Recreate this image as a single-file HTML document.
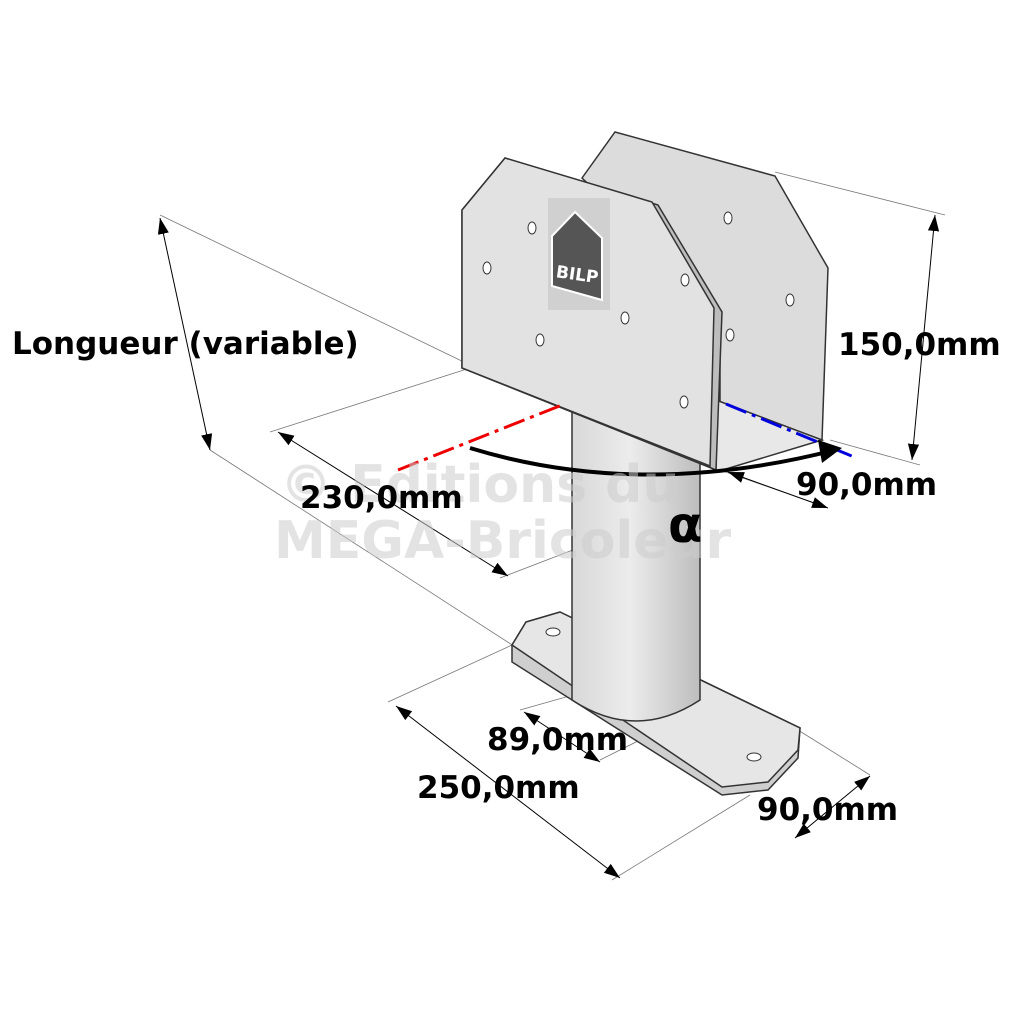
<!DOCTYPE html>
<html><head><meta charset="utf-8"><style>
html,body{margin:0;padding:0;background:#fff}
svg{display:block}
text{font-family:"DejaVu Sans","Liberation Sans",sans-serif;font-weight:bold}
</style></head><body>
<svg width="1024" height="1024" viewBox="0 0 1024 1024" xmlns="http://www.w3.org/2000/svg">
<defs>
<marker id="a" viewBox="0 0 10 10" refX="10" refY="5" markerWidth="16" markerHeight="16" markerUnits="userSpaceOnUse" orient="auto-start-reverse"><path d="M0,1.5 L10,5 L0,8.5 z" fill="#000"/></marker>
<linearGradient id="tube" x1="0" x2="1"><stop offset="0" stop-color="#d8d8d8"/><stop offset="0.45" stop-color="#ececec"/><stop offset="1" stop-color="#bdbdbd"/></linearGradient>
</defs>
<g stroke="#777" stroke-width="0.8" fill="none">
<line x1="160" y1="215" x2="470" y2="365"/>
<line x1="210" y1="450" x2="520" y2="650"/>
<line x1="270" y1="432" x2="470" y2="368"/>
<line x1="500" y1="578" x2="578" y2="548"/>
<line x1="775" y1="172" x2="945" y2="215"/>
<line x1="830" y1="440" x2="920" y2="465"/>
<line x1="820" y1="505" x2="720" y2="470"/>
<line x1="388" y1="702" x2="512" y2="645"/>
<line x1="612" y1="880" x2="750" y2="795"/>
<line x1="798" y1="730" x2="870" y2="775"/>
<line x1="520" y1="710" x2="580" y2="693"/>
<line x1="600" y1="760" x2="680" y2="720"/>
</g>
<g stroke="#000" stroke-width="1" fill="none">
<line x1="160" y1="218" x2="210" y2="450" marker-start="url(#a)" marker-end="url(#a)"/>
<line x1="935" y1="215" x2="912" y2="460" marker-start="url(#a)" marker-end="url(#a)"/>
<line x1="278" y1="432" x2="508" y2="576" marker-start="url(#a)" marker-end="url(#a)"/>
<line x1="728" y1="472" x2="828" y2="508" marker-start="url(#a)" marker-end="url(#a)"/>
<line x1="396" y1="706" x2="620" y2="878" marker-start="url(#a)" marker-end="url(#a)"/>
<line x1="524" y1="712" x2="600" y2="762" marker-start="url(#a)" marker-end="url(#a)"/>
<line x1="870" y1="776" x2="795" y2="838" marker-start="url(#a)" marker-end="url(#a)"/>
</g>
<!-- back plate -->
<polygon points="582,178 615,132 775,176 828,268 822,440 720,402 720,310" fill="#dcdcdc" stroke="#333" stroke-width="1.5"/>
<!-- U bottom -->
<polygon points="716,400 822,440 716,472" fill="#e8e8e8" stroke="#333" stroke-width="1.5"/>
<!-- base plate -->
<polygon points="512,645 526,622 560,612 800,728 798,758 768,790 722,795 512,662" fill="#cfcfcf" stroke="#333" stroke-width="1.5"/>
<polygon points="512,645 526,622 560,612 800,728 798,750 768,782 722,787" fill="#e6e6e6" stroke="#333" stroke-width="1.5"/>
<ellipse cx="553" cy="632" rx="7" ry="4" fill="#fff" stroke="#333"/>
<ellipse cx="754" cy="757" rx="7" ry="4" fill="#fff" stroke="#333"/>
<!-- tube -->
<path d="M572,400 L572,700 Q636,742 700,700 L700,420 Z" fill="url(#tube)" stroke="#333" stroke-width="1.5"/>
<!-- front plate -->
<polygon points="462,210 505,158 658,205 722,312 716,470 462,368" fill="#bdbdbd" stroke="#333" stroke-width="1.5"/>
<polygon points="462,210 505,158 652,202 714,308 710,466 462,368" fill="#e2e2e2" stroke="#333" stroke-width="1.5"/>
<g fill="#fff" stroke="#333">
<ellipse cx="532" cy="228" rx="4" ry="6"/><ellipse cx="487" cy="268" rx="4" ry="6"/>
<ellipse cx="685" cy="280" rx="4" ry="6"/><ellipse cx="625" cy="318" rx="4" ry="6"/>
<ellipse cx="540" cy="340" rx="4" ry="6"/><ellipse cx="684" cy="402" rx="4" ry="6"/>
<ellipse cx="728" cy="218" rx="4" ry="6"/><ellipse cx="790" cy="300" rx="4" ry="6"/>
<ellipse cx="730" cy="335" rx="4" ry="6"/>
</g>
<rect x="548" y="198" width="62" height="112" fill="#d0d0d0"/>
<path d="M552,236 L575,212 L602,238 L602,300 L552,286 Z" fill="#555" stroke="#fff" stroke-width="2"/>
<text x="556" y="280" font-size="17" fill="#fff" transform="rotate(8 576 274)">BILP</text>
<!-- axes -->
<line x1="398" y1="470" x2="562" y2="405" stroke="#e00" stroke-width="3" stroke-dasharray="22,6,4,6"/>
<line x1="726" y1="404" x2="854" y2="457" stroke="#00d" stroke-width="3" stroke-dasharray="22,6,4,6"/>
<path d="M470,448 Q640,500 835,450" stroke="#000" stroke-width="4" fill="none"/>
<path d="M842,448 L818,440 L822,463 Z" fill="#000"/>
<!-- watermark -->
<text x="280" y="502" font-size="52" fill="#ccc" fill-opacity="0.55">© Editions du</text>
<text x="274" y="558" font-size="52" fill="#ccc" fill-opacity="0.55">MEGA-Bricoleur</text>
<g font-size="31" fill="#000">
<text x="12" y="354">Longueur (variable)</text>
<text x="838" y="355">150,0mm</text>
<text x="300" y="508">230,0mm</text>
<text x="796" y="495">90,0mm</text>
<text x="487" y="750">89,0mm</text>
<text x="417" y="798">250,0mm</text>
<text x="757" y="820">90,0mm</text>
</g>
<text x="668" y="542" font-size="50" fill="#000">α</text>
</svg>
</body></html>
